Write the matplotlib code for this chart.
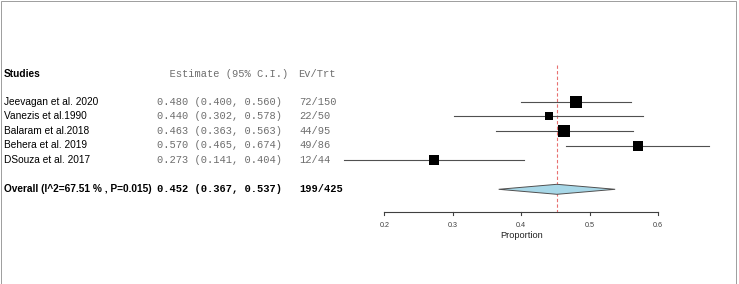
import matplotlib
matplotlib.use("Agg")
import matplotlib.pyplot as plt
from matplotlib.patches import Polygon, Rectangle
import numpy as np

# ---- data ----
studies = ["Jeevagan et al. 2020", "Vanezis et al.1990", "Balaram et al.2018",
           "Behera et al. 2019", "DSouza et al. 2017"]
est = [0.480, 0.440, 0.463, 0.570, 0.273]
lo = [0.400, 0.302, 0.363, 0.465, 0.141]
hi = [0.560, 0.578, 0.563, 0.674, 0.404]
events = [72, 22, 44, 49, 12]
totals = [150, 50, 95, 86, 44]
weights = [23.8, 16.8, 21.2, 20.7, 17.5]   # relative study weights (%)
overall_label = "Overall (I^2=67.51 % , P=0.015)"
ov_est, ov_lo, ov_hi = 0.452, 0.367, 0.537
ov_events, ov_total = 199, 425
xticks = [0.2, 0.3, 0.4, 0.5, 0.6]
xlabel = "Proportion"

W, H = 739, 284
fig = plt.figure(figsize=(W / 100, H / 100), dpi=100)
ax = fig.add_axes([0, 0, 1, 1])
ax.set_axis_off()

# pixel mapping: 0.2 -> 384.3 px, 0.1 per 68.5 px
x0px, per = 384.3, 685.0
ax.set_xlim(0.2 - x0px / per, 0.2 + (W - x0px) / per)
row0, rowh = 101.7, 14.6
ax.set_ylim((H - row0) / rowh, -row0 / rowh)

sans = "Liberation Sans"
mono = "Liberation Mono"
grey = "#6e6e6e"
fs = 7.3
fm = 7.5
tx = ax.get_yaxis_transform()  # x axes-fraction, y data

def fx(px):
    return px / W

y_header = -1.9
y_overall = 6.0
y_axis = 7.53

# header
ax.text(fx(4), y_header, "Studies", transform=tx, family=sans, fontsize=fs,
        fontweight="bold", va="center", ha="left")
ax.text(fx(156.7), y_header, "  Estimate (95% C.I.)", transform=tx, family=mono,
        fontsize=fm, color=grey, va="center", ha="left")
ax.text(fx(297.7), y_header, "Ev/Trt", transform=tx, family=mono, fontsize=fm,
        color=grey, va="center", ha="left")

# study rows
maxw = max(weights)
for i, s in enumerate(studies):
    ax.text(fx(4), i, s, transform=tx, family=sans, fontsize=fs, va="center", ha="left")
    ax.text(fx(156.7), i, f"{est[i]:.3f} ({lo[i]:.3f}, {hi[i]:.3f})", transform=tx,
            family=mono, fontsize=fm, color=grey, va="center", ha="left")
    ax.text(fx(299.3), i, f"{events[i]}/{totals[i]}", transform=tx, family=mono,
            fontsize=fm, color=grey, va="center", ha="left")
    ax.plot([lo[i], hi[i]], [i, i], color="#505050", lw=0.8, zorder=2)
    side_px = 12.6 * weights[i] / maxw
    ax.plot([est[i]], [i], marker="s", color="black", ms=side_px * 72 / 100,
            markeredgewidth=0, zorder=3)

# overall row
ax.text(fx(4), y_overall, overall_label, transform=tx, family=sans, fontsize=fs,
        fontweight="bold", va="center", ha="left")
ax.text(fx(156.7), y_overall, f"{ov_est:.3f} ({ov_lo:.3f}, {ov_hi:.3f})", transform=tx,
        family=mono, fontsize=fm, fontweight="bold", va="center", ha="left")
ax.text(fx(299.3), y_overall, f"{ov_events}/{ov_total}", transform=tx, family=mono,
        fontsize=fm, fontweight="bold", va="center", ha="left")
dh = 5.0 / rowh
diamond = Polygon([[ov_lo, y_overall], [ov_est, y_overall - dh], [ov_hi, y_overall],
                   [ov_est, y_overall + dh]], closed=True, facecolor="#a8d8e8",
                  edgecolor="#505050", lw=0.7, zorder=3)
ax.add_patch(diamond)

# reference dashed line
ax.plot([ov_est, ov_est], [-2.5, y_axis], color="#e87070", lw=0.8,
        ls=(0, (3, 2)), zorder=1)

# x axis
ax.plot([xticks[0], xticks[-1]], [y_axis, y_axis], color="#404040", lw=0.8)
tlen = 3.5 / rowh
for t in xticks:
    ax.plot([t, t], [y_axis, y_axis + tlen], color="#404040", lw=0.8)
    ax.text(t, y_axis + 13.5 / rowh, f"{t:g}", family=sans, fontsize=5.2,
            color="#404040", ha="center", va="center")
ax.text(np.mean([xticks[0], xticks[-1]]), y_axis + 24.2 / rowh, xlabel, family=sans,
        fontsize=6.7, color="#222222", ha="center", va="center")

# frame
fig.add_artist(Rectangle((0.5 / W, 0.5 / H), 735 / W, 283 / H, transform=fig.transFigure,
                         fill=False, edgecolor="#a0a0a0", lw=0.72))

fig.savefig("out.png", dpi=100)
